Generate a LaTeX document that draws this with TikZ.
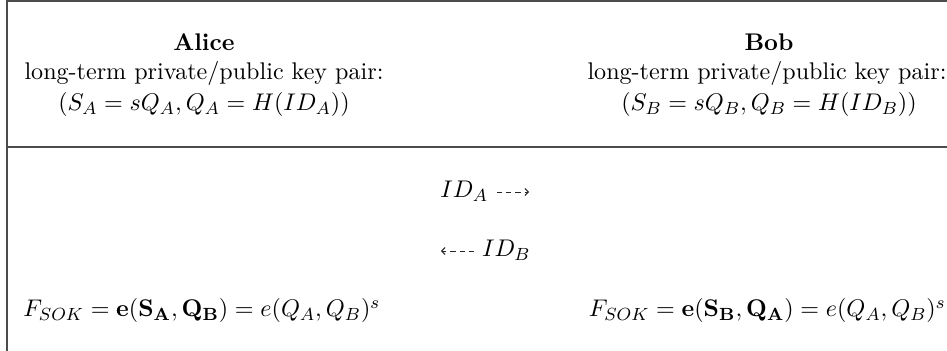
\documentclass[tikz,border=0pt]{standalone}
\usepackage{amsmath}
\usetikzlibrary{arrows.meta}
\begin{document}
\begin{tikzpicture}[x=0.4545pt,y=-0.4545pt,
  frame/.style={draw=black!70,line width=0.9pt},
  txt/.style={inner sep=0pt,anchor=base,font=\fontsize{10.95pt}{13.6pt}\selectfont},
  msgarrow/.style={draw=black!85,dash pattern=on 2.3pt off 1.9pt,line width=0.4pt,-{Straight Barb[length=1.5pt,width=3.2pt,line width=0.5pt]}}]
\useasboundingbox (0,0) rectangle (947,351);
% frame
\coordinate (tl) at (7,1);
\coordinate (tr) at (947,1);
\coordinate (bl) at (7,351);
\coordinate (ml) at (7,147);
\coordinate (mr) at (947,147);
\draw[frame] (tr) -- (tl) -- (bl);
\draw[frame] (ml) -- (mr);
% Alice
\node[txt] (alice) at (204,50.7) {\textbf{Alice}};
\node[txt] (alicekey) at (204,80) {long-term private/public key pair:};
\node[txt] (aliceform) at (204,111) {$(S_A = sQ_A, Q_A = H(ID_A))$};
% Bob
\node[txt] (bob) at (769,50.7) {\textbf{Bob}};
\node[txt] (bobkey) at (767,80) {long-term private/public key pair:};
\node[txt] (bobform) at (769,111) {$(S_B = sQ_B, Q_B = H(ID_B))$};
% messages
\node[txt,anchor=base west] (ida) at (440,198) {$ID_A$};
\coordinate (idastart) at (497,192);
\coordinate (idaend) at (529,192);
\draw[msgarrow] (idastart) -- (idaend);
\node[txt,anchor=base east] (idb) at (531,257) {$ID_B$};
\coordinate (idbstart) at (474,251);
\coordinate (idbend) at (441,251);
\draw[msgarrow] (idbstart) -- (idbend);
% shared keys
\node[txt,anchor=base west] (fa) at (23,317) {$F_{SOK} = \mathbf{e}(\mathbf{S_A},\mathbf{Q_B}) = e(Q_A,Q_B)^s$};
\node[txt,anchor=base east] (fb) at (946,317) {$F_{SOK} = \mathbf{e}(\mathbf{S_B},\mathbf{Q_A}) = e(Q_A,Q_B)^s$};
\end{tikzpicture}
\end{document}
